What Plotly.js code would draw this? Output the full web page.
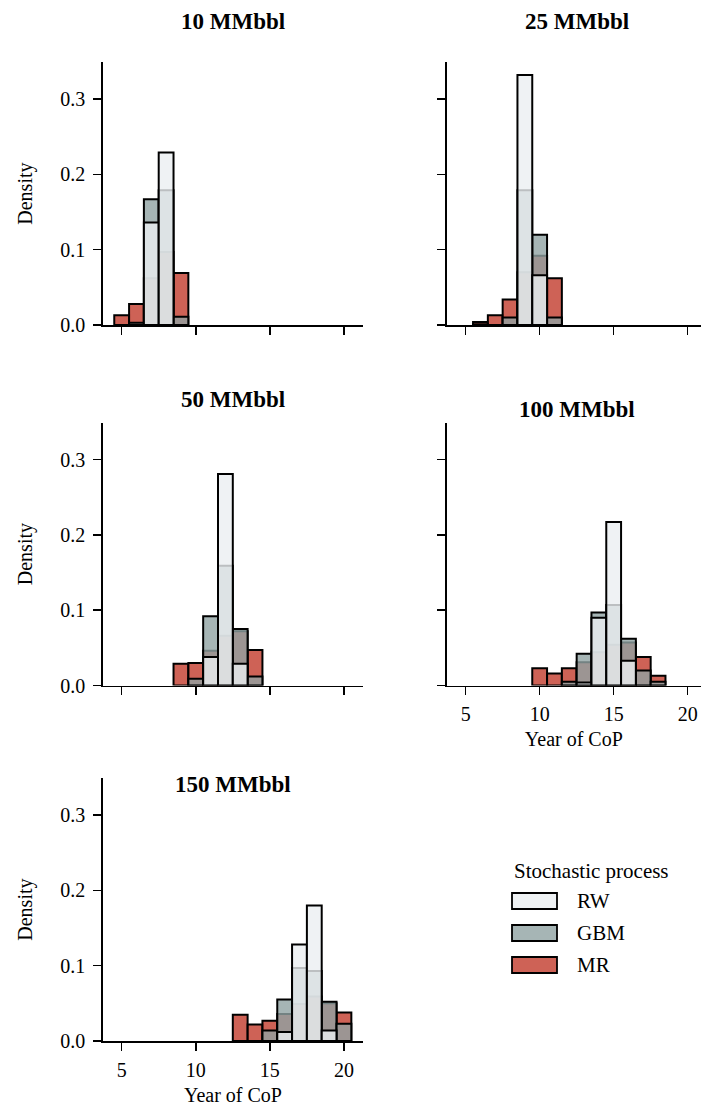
<!DOCTYPE html>
<html>
<head>
<meta charset="utf-8">
<script src="https://cdn.plot.ly/plotly-3.0.1.min.js"></script>
<style>
  html, body { margin: 0; padding: 0; background: #ffffff; }
  #chart { width: 701px; height: 1108px; }
</style>
</head>
<body>
<div id="chart"></div>
<script>
// ---------- data (density of year of CoP, bin width = 1 year) ----------
const panelTitles = ["10 MMbbl", "25 MMbbl", "50 MMbbl", "100 MMbbl", "150 MMbbl"];
const seriesNames = ["RW", "GBM", "MR"];

const years10 = [5, 6, 7, 8, 9];
const rw10    = [0, 0, 0.136, 0.229, 0];
const gbm10   = [0, 0.003, 0.167, 0.179, 0.011];
const mr10    = [0.013, 0.028, 0.062, 0.097, 0.069];

const years25 = [6, 7, 8, 9, 10, 11];
const rw25    = [0, 0, 0, 0.332, 0.066, 0];
const gbm25   = [0.001, 0, 0.010, 0.179, 0.120, 0.010];
const mr25    = [0.004, 0.013, 0.034, 0.070, 0.092, 0.062];

const years50 = [9, 10, 11, 12, 13, 14];
const rw50    = [0, 0, 0.038, 0.281, 0.029, 0];
const gbm50   = [0, 0.009, 0.092, 0.159, 0.075, 0.012];
const mr50    = [0.029, 0.030, 0.046, 0.066, 0.072, 0.047];

const years100 = [10, 11, 12, 13, 14, 15, 16, 17, 18];
const rw100    = [0, 0, 0, 0.004, 0.090, 0.217, 0.033, 0, 0];
const gbm100   = [0, 0, 0.005, 0.042, 0.097, 0.107, 0.062, 0.020, 0.005];
const mr100    = [0.023, 0.016, 0.023, 0.031, 0.044, 0.054, 0.057, 0.038, 0.013];

const years150 = [13, 14, 15, 16, 17, 18, 19, 20];
const rw150    = [0, 0, 0, 0.012, 0.128, 0.180, 0.014, 0];
const gbm150   = [0, 0, 0.014, 0.055, 0.097, 0.093, 0.052, 0.023];
const mr150    = [0.035, 0.022, 0.027, 0.036, 0.049, 0.059, 0.050, 0.038];

const xTickVals = [5, 10, 15, 20];
const yTickVals = [0, 0.1, 0.2, 0.3];

// ---------- styling ----------
const FONT = "Liberation Serif, 'Times New Roman', Times, serif";
const fills = {
  RW:  "rgba(235,239,241,0.8)",
  GBM: "rgba(144,163,163,0.8)",
  MR:  "rgba(194,59,44,0.8)"
};
const W = 701, H = 1108;

const panels = [
  {years: years10,  RW: rw10,  GBM: gbm10,  MR: mr10},
  {years: years25,  RW: rw25,  GBM: gbm25,  MR: mr25},
  {years: years50,  RW: rw50,  GBM: gbm50,  MR: mr50},
  {years: years100, RW: rw100, GBM: gbm100, MR: mr100},
  {years: years150, RW: rw150, GBM: gbm150, MR: mr150}
];

// pixel geometry of each panel (left, right, top, bottom), x range
const colL = {x0: 102.7, x1: 363.2, range: [3.72, 21.3]};
const colR = {x0: 446.7, x1: 701,   range: [3.72, 20.9]};
const rows = [{b: 325, t: 62.2}, {b: 685.5, t: 422.7}, {b: 1041, t: 778.2}];
const geo = [
  {c: colL, r: rows[0], xlab: false, ylab: true},
  {c: colR, r: rows[0], xlab: false, ylab: false},
  {c: colL, r: rows[1], xlab: false, ylab: true},
  {c: colR, r: rows[1], xlab: true,  ylab: false},
  {c: colL, r: rows[2], xlab: true,  ylab: true}
];
const titleY = [22, 22, 399, 410, 784];

const traces = [];
const layout = {
  width: W, height: H,
  margin: {l: 0, r: 0, t: 0, b: 0},
  paper_bgcolor: "#ffffff",
  plot_bgcolor: "rgba(0,0,0,0)",
  barmode: "overlay",
  bargap: 0,
  showlegend: false,
  font: {family: FONT, size: 20, color: "#000000"},
  annotations: [],
  shapes: []
};

panels.forEach((p, i) => {
  const ax = i === 0 ? "" : String(i + 1);
  const g = geo[i];
  // draw order: MR (bottom), GBM, RW (top)
  ["MR", "GBM", "RW"].forEach(name => {
    const xs = [], ys = [];
    p.years.forEach((yr, k) => { if (p[name][k] > 0) { xs.push(yr); ys.push(p[name][k]); } });
    traces.push({
      type: "bar", name: name, x: xs, y: ys, width: 1,
      xaxis: "x" + ax, yaxis: "y" + ax,
      marker: {color: fills[name], line: {color: "#000000", width: 2}},
      hoverinfo: "x+y+name", showlegend: false
    });
  });
  layout["xaxis" + ax] = {
    domain: [g.c.x0 / W, g.c.x1 / W],
    range: g.c.range,
    anchor: "y" + ax,
    tickmode: "array", tickvals: xTickVals, ticktext: xTickVals.map(String),
    showticklabels: g.xlab,
    ticks: "outside", ticklen: 8, tickwidth: 1.5, tickcolor: "#000",
    ticklabelstandoff: 2,
    showline: true, linecolor: "#000", linewidth: 1.5,
    showgrid: false, zeroline: false,
    tickfont: {family: FONT, size: 20, color: "#000"},
    title: g.xlab ? {text: "Year of CoP", font: {family: FONT, size: 20, color: "#000"}, standoff: 8} : {text: ""}
  };
  layout["yaxis" + ax] = {
    domain: [(H - g.r.b) / H, (H - g.r.t) / H],
    range: [0, 0.349],
    anchor: "x" + ax,
    tickmode: "array", tickvals: yTickVals, ticktext: yTickVals.map(v => v.toFixed(1)),
    showticklabels: g.ylab,
    ticks: "outside", ticklen: 8, tickwidth: 1.5, tickcolor: "#000",
    ticklabelstandoff: 4,
    showline: true, linecolor: "#000", linewidth: 1.5,
    showgrid: false, zeroline: false,
    tickfont: {family: FONT, size: 20, color: "#000"},
    title: g.ylab ? {text: "Density", font: {family: FONT, size: 20, color: "#000"}, standoff: 22} : {text: ""}
  };
  layout.annotations.push({
    text: "<b>" + panelTitles[i] + "</b>",
    xref: "paper", yref: "paper",
    x: ((g.c.x0 + (g.c === colR ? 707 : g.c.x1)) / 2) / W,
    y: 1 - titleY[i] / H,
    xanchor: "center", yanchor: "middle", showarrow: false,
    font: {family: FONT, size: 23, color: "#000"}
  });
});

// ---------- legend (drawn in the empty sixth cell) ----------
const legX0 = 512, legX1 = 557, legTextX = 575;
const legRowY = [901, 933, 965];
layout.annotations.push({
  text: "Stochastic process", xref: "paper", yref: "paper",
  x: legX0 / W, y: 1 - 871 / H, xanchor: "left", yanchor: "middle",
  showarrow: false, font: {family: FONT, size: 21, color: "#000"}
});
seriesNames.forEach((name, k) => {
  const cy = legRowY[k];
  layout.shapes.push({
    type: "rect", xref: "paper", yref: "paper",
    x0: legX0 / W, x1: legX1 / W, y0: 1 - (cy + 8) / H, y1: 1 - (cy - 8) / H,
    fillcolor: fills[name], line: {color: "#000", width: 1.8}
  });
  layout.annotations.push({
    text: name, xref: "paper", yref: "paper",
    x: legTextX / W, y: 1 - cy / H, xanchor: "left", yanchor: "middle",
    showarrow: false, font: {family: FONT, size: 21, color: "#000"}
  });
});

Plotly.newPlot("chart", traces, layout, {staticPlot: true, displayModeBar: false});
</script>
</body>
</html>
